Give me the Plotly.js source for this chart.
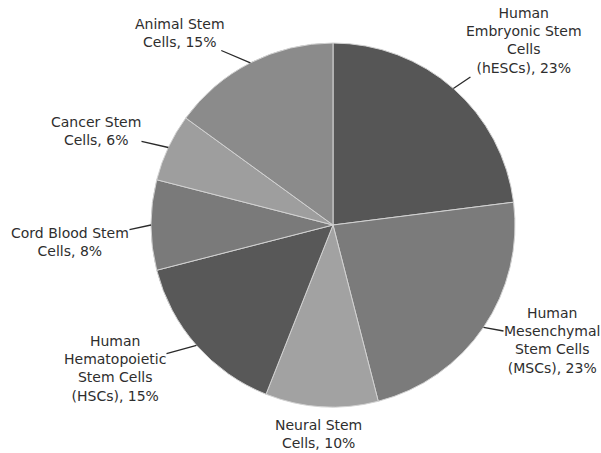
<!DOCTYPE html>
<html>
<head>
<meta charset="utf-8">
<script src="https://cdn.plot.ly/plotly-3.0.1.min.js"></script>
<style>html,body{margin:0;padding:0;background:#fff;}#chart{width:601px;height:453px;}</style>
</head>
<body>
<div id="chart"></div>
<script>
// ---- data ----
const categories = [
  'Human<br>Embryonic Stem<br>Cells<br>(hESCs)',
  'Human<br>Mesenchymal<br>Stem Cells<br>(MSCs)',
  'Neural Stem<br>Cells',
  'Human<br>Hematopoietic<br>Stem Cells<br>(HSCs)',
  'Cord Blood Stem<br>Cells',
  'Cancer Stem<br>Cells',
  'Animal Stem<br>Cells'
];
const values = [23, 23, 10, 15, 8, 6, 15];
const colors = ['#565656', '#7b7b7b', '#a2a2a2', '#585858', '#7a7a7a', '#9e9e9e', '#8b8b8b'];

// ---- layout config (pixels) ----
const W = 601, H = 453;
const CX = 333, CY = 225, R = 182;
// label text centres in pixels, and whether a leader line is drawn
const labelCentres = [[524, 41], [552, 340], [318, 434], [115, 368], [70, 242], [96, 131], [180, 33]];
const hasLeader = [true, true, false, true, true, true, true];

const total = values.reduce((a, b) => a + b, 0);
const annotations = [];
let cum = 0;
values.forEach((v, i) => {
  const mid = (cum + v / 2) / total * 2 * Math.PI; // clockwise from 12 o'clock
  cum += v;
  const tx = CX + R * Math.sin(mid);
  const ty = CY - R * Math.cos(mid);
  const text = categories[i] + ', ' + v + '%';
  const [lx, ly] = labelCentres[i];
  if (hasLeader[i]) {
    annotations.push({
      xref: 'paper', yref: 'paper', x: tx / W, y: 1 - ty / H,
      ax: lx - tx, ay: ly - ty, showarrow: true, arrowhead: 0, arrowwidth: 1.3,
      arrowcolor: '#2a2a2a', standoff: 0, startstandoff: 0,
      text: text, align: 'center', borderpad: 0,
      font: {family: 'DejaVu Sans, Verdana, sans-serif', size: 14, color: '#2e2e2e'}
    });
  } else {
    annotations.push({
      xref: 'paper', yref: 'paper', x: lx / W, y: 1 - ly / H,
      xanchor: 'center', yanchor: 'middle', showarrow: false,
      text: text, align: 'center', borderpad: 0,
      font: {family: 'DejaVu Sans, Verdana, sans-serif', size: 14, color: '#2e2e2e'}
    });
  }
});

const trace = {
  type: 'pie',
  labels: categories,
  values: values,
  sort: false,
  direction: 'clockwise',
  rotation: 0,
  textinfo: 'none',
  hoverinfo: 'label+percent',
  marker: {colors: colors, line: {color: '#d2d2d2', width: 1}},
  domain: {x: [(CX - R) / W, (CX + R) / W], y: [1 - (CY + R) / H, 1 - (CY - R) / H]}
};

const layout = {
  width: W, height: H,
  margin: {l: 0, r: 0, t: 0, b: 0},
  showlegend: false,
  paper_bgcolor: '#ffffff',
  annotations: annotations
};

Plotly.newPlot('chart', [trace], layout, {displayModeBar: false, staticPlot: true});
</script>
</body>
</html>
